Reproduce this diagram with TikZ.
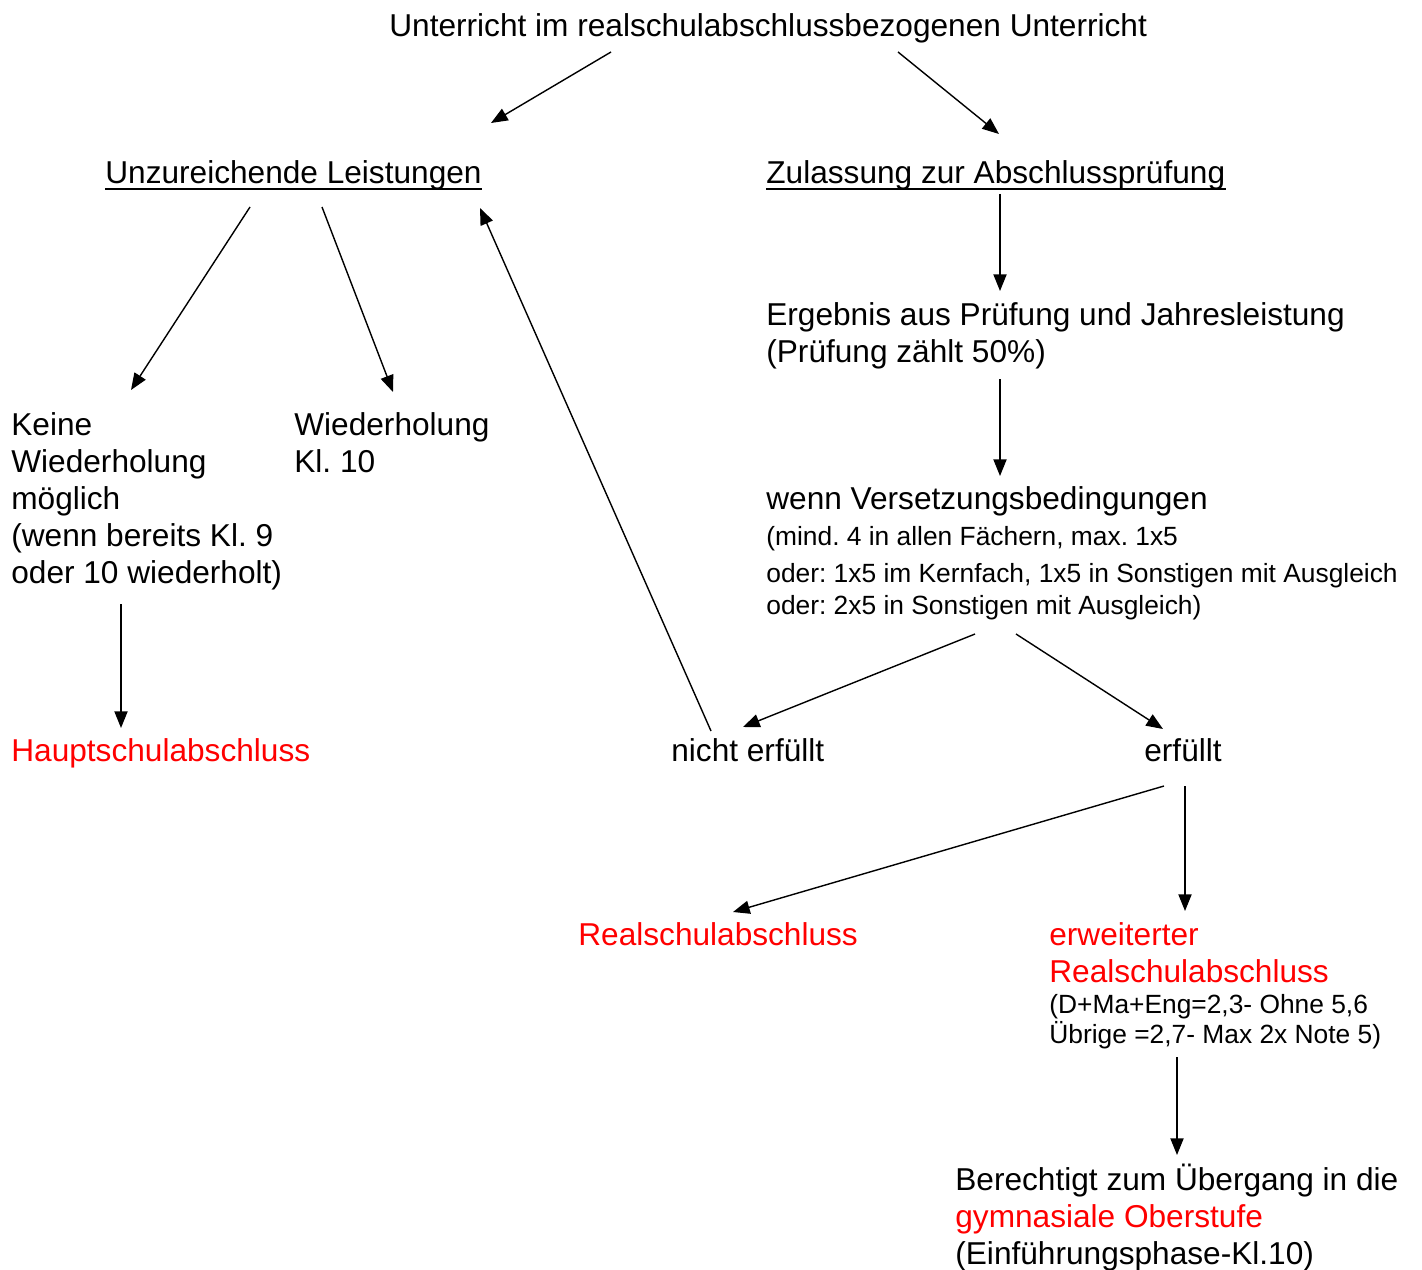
\documentclass[tikz,border=0pt]{standalone}
\usepackage{fontspec}
\setmainfont{Liberation Sans}
\usetikzlibrary{arrows.meta}
\definecolor{tred}{RGB}{255,0,0}
\frenchspacing
\begin{document}
\begin{tikzpicture}[x=0.02cm,y=-0.02cm,
  txt/.style={inner sep=0pt,anchor=base west,align=left,font=\fontsize{18}{21}\selectfont},
  small/.style={inner sep=0pt,anchor=base west,align=left,font=\fontsize{15}{17}\selectfont},
  hot/.style={text=tred},
  conn/.style={line width=0.8pt,-{Triangle[length=9.5pt,width=7.5pt]}},
  uline/.style={line width=1.1pt}]
\useasboundingbox (0,0) rectangle (1422,1270);
% texts (multi-line nodes are anchored at the baseline of their last line)
\node[txt] (top) at (389,37) {Unterricht im realschulabschlussbezogenen Unterricht};
\node[txt] (unz) at (105,184) {Unzureichende Leistungen};
\node[txt] (zul) at (766,184) {Zulassung zur Abschlussprüfung};
\node[txt] (erg) at (766,362) {Ergebnis aus Prüfung und Jahresleistung\\(Prüfung zählt 50\%)};
\node[txt] (keine) at (11,583) {Keine\\Wiederholung\\möglich\\(wenn bereits Kl. 9\\oder 10 wiederholt)};
\node[txt] (wdh) at (294,472) {Wiederholung\\Kl. 10};
\node[txt] (wenn) at (766,509) {wenn Versetzungsbedingungen};
\node[small] (bed1) at (766,545) {(mind. 4 in allen Fächern, max. 1x5};
\node[small] (bed2) at (766,582) {oder: 1x5 im Kernfach, 1x5 in Sonstigen mit Ausgleich};
\node[small] (bed3) at (766,614) {oder: 2x5 in Sonstigen mit Ausgleich)};
\node[txt,hot] (haupt) at (11,761) {Hauptschulabschluss};
\node[txt] (nicht) at (671,761) {nicht erfüllt};
\node[txt] (erf) at (1144,761) {erfüllt};
\node[txt,hot] (real) at (578,945) {Realschulabschluss};
\node[txt,hot] (erw) at (1049,982) {erweiterter\\Realschulabschluss};
\node[small] (erwb) at (1049,1043) {(D+Ma+Eng=2,3- Ohne 5,6\\Übrige =2,7- Max 2x Note 5)};
\node[txt] (ber) at (955,1264) {Berechtigt zum Übergang in die\\\textcolor{tred}{gymnasiale Oberstufe}\\(Einführungsphase-Kl.10)};
% underlines
\draw[uline] ([yshift=-2.6pt]unz.base west) -- ([yshift=-2.6pt]unz.base east);
\draw[uline] ([yshift=-2.6pt]zul.base west) -- ([yshift=-2.6pt]zul.base east);
% connector end points
\coordinate (a1s) at (611,52);   \coordinate (a1e) at (491,123);
\coordinate (a2s) at (898,52);   \coordinate (a2e) at (999,134);
\coordinate (a3s) at (250,207);  \coordinate (a3e) at (131,390);
\coordinate (a4s) at (322,207);  \coordinate (a4e) at (393,392);
\coordinate (a5s) at (711,731);  \coordinate (a5e) at (480,208);
\coordinate (a6s) at (1000,194); \coordinate (a6e) at (1000,291);
\coordinate (a7s) at (1000,379); \coordinate (a7e) at (1000,476);
\coordinate (a8s) at (121,604);  \coordinate (a8e) at (121,728);
\coordinate (a9s) at (975,634);  \coordinate (a9e) at (743,727);
\coordinate (a10s) at (1016,634);\coordinate (a10e) at (1163,729);
\coordinate (a11s) at (1164,786);\coordinate (a11e) at (733,912);
\coordinate (a12s) at (1185,786);\coordinate (a12e) at (1185,911);
\coordinate (a13s) at (1177,1057);\coordinate (a13e) at (1177,1155);
% connectors
\draw[conn] (a1s) -- (a1e);
\draw[conn] (a2s) -- (a2e);
\draw[conn] (a3s) -- (a3e);
\draw[conn] (a4s) -- (a4e);
\draw[conn] (a5s) -- (a5e);
\draw[conn] (a6s) -- (a6e);
\draw[conn] (a7s) -- (a7e);
\draw[conn] (a8s) -- (a8e);
\draw[conn] (a9s) -- (a9e);
\draw[conn] (a10s) -- (a10e);
\draw[conn] (a11s) -- (a11e);
\draw[conn] (a12s) -- (a12e);
\draw[conn] (a13s) -- (a13e);
\end{tikzpicture}
\end{document}
